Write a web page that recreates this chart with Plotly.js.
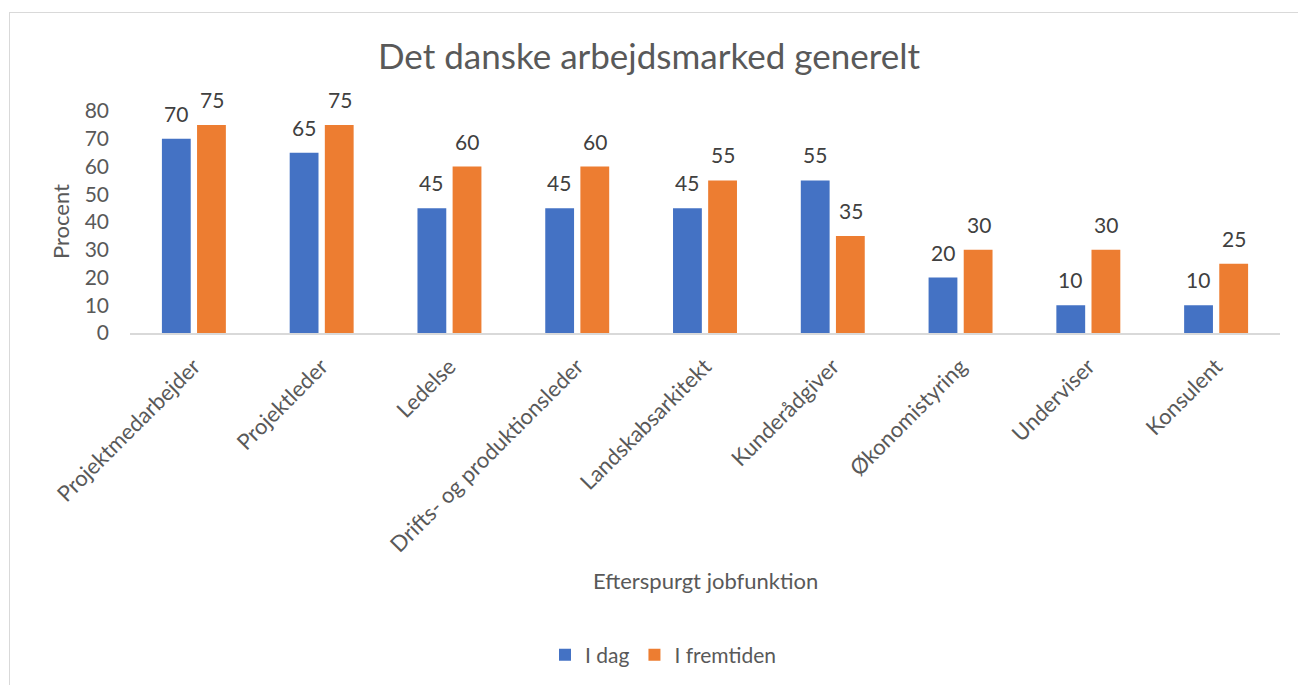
<!DOCTYPE html>
<html>
<head>
<meta charset="utf-8">
<script src="https://cdn.plot.ly/plotly-3.0.1.min.js"></script>
<style>
html,body{margin:0;padding:0;background:#fff;overflow:hidden;}
#chart{width:1298px;height:685px;position:absolute;left:0;top:0;}
#frame{position:absolute;left:9px;top:12px;width:1300px;height:700px;border:1px solid #d9d9d9;pointer-events:none;}
</style>
</head>
<body>
<div id="chart"></div>
<div id="frame"></div>
<script>
const categories = ["Projektmedarbejder","Projektleder","Ledelse","Drifts- og produktionsleder","Landskabsarkitekt","Kunderådgiver","Økonomistyring","Underviser","Konsulent"];
const iDag = [70,65,45,45,45,55,20,10,10];
const iFremtiden = [75,75,60,60,55,35,30,30,25];
const seriesNames = ["I dag","I fremtiden"];
const yTicks = [0,10,20,30,40,50,60,70,80];

const FONT = "Lato, 'Open Sans', sans-serif";
const traces = [
  {type:'bar', name:seriesNames[0], x:categories, y:iDag, marker:{color:'#4472C4'}},
  {type:'bar', name:seriesNames[1], x:categories, y:iFremtiden, marker:{color:'#ED7D31'}}
];
const labelAnn = [];
[[iDag,-18],[iFremtiden,18]].forEach(([vals,dx])=>{
  vals.forEach((v,i)=>{
    labelAnn.push({x:categories[i], y:v, xref:'x', yref:'y', text:String(v), showarrow:false,
      xanchor:'center', yanchor:'bottom', xshift:dx, yshift:11,
      font:{size:21,color:'#404040',family:FONT}});
  });
});
labelAnn.push({text:'Efterspurgt jobfunktion', xref:'paper', yref:'paper', x:0.5, y:-(583-334)/223,
  xanchor:'center', yanchor:'middle', showarrow:false, font:{size:22,color:'#595959',family:FONT}});
labelAnn.push({text:'Procent', xref:'paper', yref:'paper', x:-(130-60)/1150, y:0.5, textangle:-90,
  xanchor:'center', yanchor:'middle', showarrow:false, font:{size:22,color:'#595959',family:FONT}});

const layout = {
  width:1298, height:685,
  paper_bgcolor:'#fff', plot_bgcolor:'#fff',
  margin:{l:130,r:18,t:111,b:351},
  font:{family:FONT,color:'#595959',size:21},
  title:{text:'Det danske arbejdsmarked generelt', font:{size:35,color:'#595959',family:FONT}, x:0.5, xanchor:'center', y:0.917, yanchor:'middle'},
  barmode:'group', bargap:0.45, bargroupgap:0.18,
  showlegend:true,
  legend:{orientation:'h', x:(663-130)/1150, xanchor:'center', y:-(655-334)/223, yanchor:'middle', font:{size:21,color:'#595959'}, traceorder:'normal', itemwidth:30},
  annotations:labelAnn,
  xaxis:{type:'category', tickangle:-45, showline:true, linecolor:'#d9d9d9', linewidth:2, ticks:'', showgrid:false,
         tickfont:{size:22,color:'#595959'}, ticklabelstandoff:10},
  yaxis:{range:[0,80], tickvals:yTicks, showgrid:false, zeroline:false, showline:false, ticks:'',
         tickfont:{size:21,color:'#595959'}, ticklabelstandoff:20}
};
Plotly.newPlot('chart', traces, layout, {displayModeBar:false, staticPlot:true});
</script>
</body>
</html>
